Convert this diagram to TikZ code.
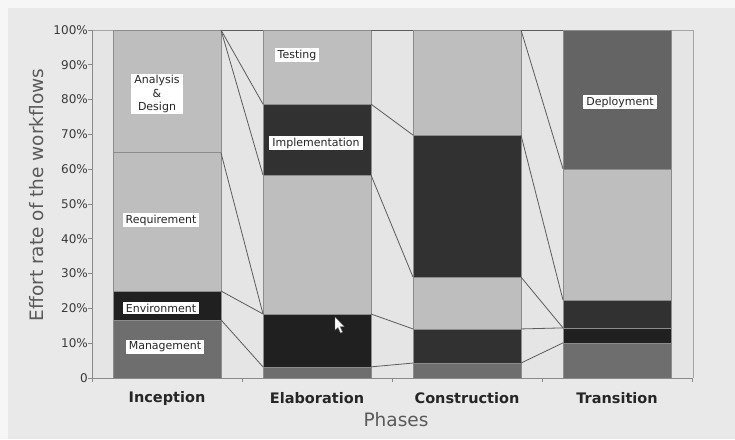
\documentclass[tikz,border=0pt]{standalone}
\usepackage{fontspec}
\setmainfont{DejaVu Sans}
\definecolor{bgouter}{HTML}{E9E9E9}
\definecolor{bgedge}{HTML}{F6F6F6}
\definecolor{bgplot}{HTML}{E5E5E5}
\definecolor{lightbar}{HTML}{BEBEBE}
\definecolor{mgmtc}{HTML}{6E6E6E}
\definecolor{envc}{HTML}{202020}
\definecolor{implc}{HTML}{313131}
\definecolor{deplc}{HTML}{646464}
\definecolor{edgec}{HTML}{8C8C8C}
\definecolor{seriesc}{HTML}{5C5C5C}
\definecolor{framec}{HTML}{A6A6A6}
\definecolor{axisc}{HTML}{8A8A8A}
\definecolor{ticktext}{HTML}{3A3A3A}
\definecolor{titletext}{HTML}{5A5A5A}
\pgfmathdeclarefunction{pc}{1}{\pgfmathparse{378-3.48*#1}}
\begin{document}
\begin{tikzpicture}[x=1pt,y=-1pt,
  segment/.style={draw=edgec, line width=0.7pt},
  series/.style={draw=seriesc, line width=0.8pt},
  tag/.style={fill=white, inner xsep=3pt, inner ysep=1.5pt, text=black!85,
              font=\fontsize{11}{13.5}\selectfont},
  ticklabel/.style={anchor=east, inner sep=1pt, text=ticktext,
              font=\fontsize{12}{14}\selectfont},
  phase/.style={font=\fontsize{14.5}{16}\selectfont\bfseries, text=black!85},
  axistitle/.style={text=titletext, font=\fontsize{18.5}{20}\selectfont}]
\useasboundingbox (0,0) rectangle (735,439);
% page background with a pale margin on top and left
\fill[bgedge] (0,0) rectangle (735,439);
\fill[bgouter] (8,8) rectangle (735,439);
% plot area
\fill[bgplot] (92,30) rectangle (693,378);
\draw[framec, line width=0.8pt] (92,30) -- (693,30) -- (693,378);

% stacked columns: x-left / x-right / from % / to % / colour
\foreach \xa/\xb/\pa/\pb/\c in {
  113/221/0/16.7/mgmtc, 113/221/16.7/25/envc, 113/221/25/64.7/lightbar, 113/221/64.7/100/lightbar,
  263/371/0/3.2/mgmtc, 263/371/3.2/18.4/envc, 263/371/18.4/58.3/lightbar, 263/371/58.3/78.7/implc, 263/371/78.7/100/lightbar,
  413/521/0/4.3/mgmtc, 413/521/4.3/14.1/implc, 413/521/14.1/29/lightbar, 413/521/29/69.8/implc, 413/521/69.8/100/lightbar,
  563/671/0/10.1/mgmtc, 563/671/10.1/14.4/envc, 563/671/14.4/22.4/implc, 563/671/22.4/60.1/lightbar, 563/671/60.1/100/deplc}
  \filldraw[segment, fill=\c] (\xa,{pc(\pa)}) rectangle (\xb,{pc(\pb)});

% ends of the series lines on the column edges
\coordinate (I-mg) at (221,{pc(16.7)});
\coordinate (I-env) at (221,{pc(25)});
\coordinate (I-req) at (221,{pc(64.7)});
\coordinate (I-top) at (221,{pc(100)});
\coordinate (E-mg-l) at (263,{pc(3.2)});
\coordinate (E-env-l) at (263,{pc(18.4)});
\coordinate (E-ad-l) at (263,{pc(58.3)});
\coordinate (E-imp-l) at (263,{pc(78.7)});
\coordinate (E-top-l) at (263,{pc(100)});
\coordinate (E-mg-r) at (371,{pc(3.2)});
\coordinate (E-env-r) at (371,{pc(18.4)});
\coordinate (E-ad-r) at (371,{pc(58.3)});
\coordinate (E-imp-r) at (371,{pc(78.7)});
\coordinate (E-top-r) at (371,{pc(100)});
\coordinate (C-mg-l) at (413,{pc(4.3)});
\coordinate (C-env-l) at (413,{pc(14.1)});
\coordinate (C-ad-l) at (413,{pc(29)});
\coordinate (C-imp-l) at (413,{pc(69.8)});
\coordinate (C-top-l) at (413,{pc(100)});
\coordinate (C-mg-r) at (521,{pc(4.3)});
\coordinate (C-env-r) at (521,{pc(14.1)});
\coordinate (C-ad-r) at (521,{pc(29)});
\coordinate (C-imp-r) at (521,{pc(69.8)});
\coordinate (C-top-r) at (521,{pc(100)});
\coordinate (T-mg) at (563,{pc(10.1)});
\coordinate (T-env) at (563,{pc(14.4)});
\coordinate (T-imp) at (563,{pc(22.4)});
\coordinate (T-tst) at (563,{pc(60.1)});
\coordinate (T-top) at (563,{pc(100)});

% series lines
\draw[series] (I-mg) -- (E-mg-l);
\draw[series] (I-env) -- (E-env-l);
\draw[series] (I-req) -- (E-env-l);
\draw[series] (I-top) -- (E-ad-l);
\draw[series] (I-top) -- (E-imp-l);
\draw[series] (I-top) -- (E-top-l);
\draw[series] (E-mg-r) -- (C-mg-l);
\draw[series] (E-env-r) -- (C-env-l);
\draw[series] (E-ad-r) -- (C-ad-l);
\draw[series] (E-imp-r) -- (C-imp-l);
\draw[series] (E-top-r) -- (C-top-l);
\draw[series] (C-mg-r) -- (T-mg);
\draw[series] (C-env-r) -- (T-env);
\draw[series] (C-ad-r) -- (T-env);
\draw[series] (C-imp-r) -- (T-imp);
\draw[series] (C-top-r) -- (T-tst);
\draw[series] (C-top-r) -- (T-top);

% axes and tick marks
\draw[axisc, line width=0.9pt] (92,30) -- (92,378) -- (693,378);
\foreach \p in {0,10,...,100}
  \draw[axisc, line width=0.8pt] (88,{pc(\p)}) -- (92,{pc(\p)});
\foreach \x in {92,242,392,542,692}
  \draw[axisc, line width=0.8pt] (\x,378) -- (\x,382);

% value axis labels
\node[ticklabel] (t0) at (89,{pc(0)}) {0};
\foreach \p in {10,20,...,100}
  \node[ticklabel] (t\p) at (89,{pc(\p)}) {\p\%};

% workflow tags
\node[tag, align=center] (ad) at (157,94) {Analysis\\\&\\Design};
\node[tag] (req) at (161,220) {Requirement};
\node[tag] (env) at (161,308) {Environment};
\node[tag] (mgt) at (165,347) {Management};
\node[tag] (tst) at (297,55) {Testing};
\node[tag] (imp) at (316,143) {Implementation};
\node[tag] (dep) at (620,102) {Deployment};

% mouse pointer
\filldraw[fill=white, draw=black!55, line width=0.4pt]
  (335,317) -- (335,330) -- (338,327.5) -- (340.5,333) -- (342.5,332) -- (340,326.5) -- (344,326.5) -- cycle;

% category labels and titles
\node[phase] (pi) at (167,398) {Inception};
\node[phase] (pe) at (317,398) {Elaboration};
\node[phase] (pco) at (467,398) {Construction};
\node[phase] (ptr) at (617,398) {Transition};
\node[axistitle] (xt) at (396,420) {Phases};
\node[axistitle, rotate=90] (yt) at (37,195) {Effort rate of the workflows};
\end{tikzpicture}
\end{document}
